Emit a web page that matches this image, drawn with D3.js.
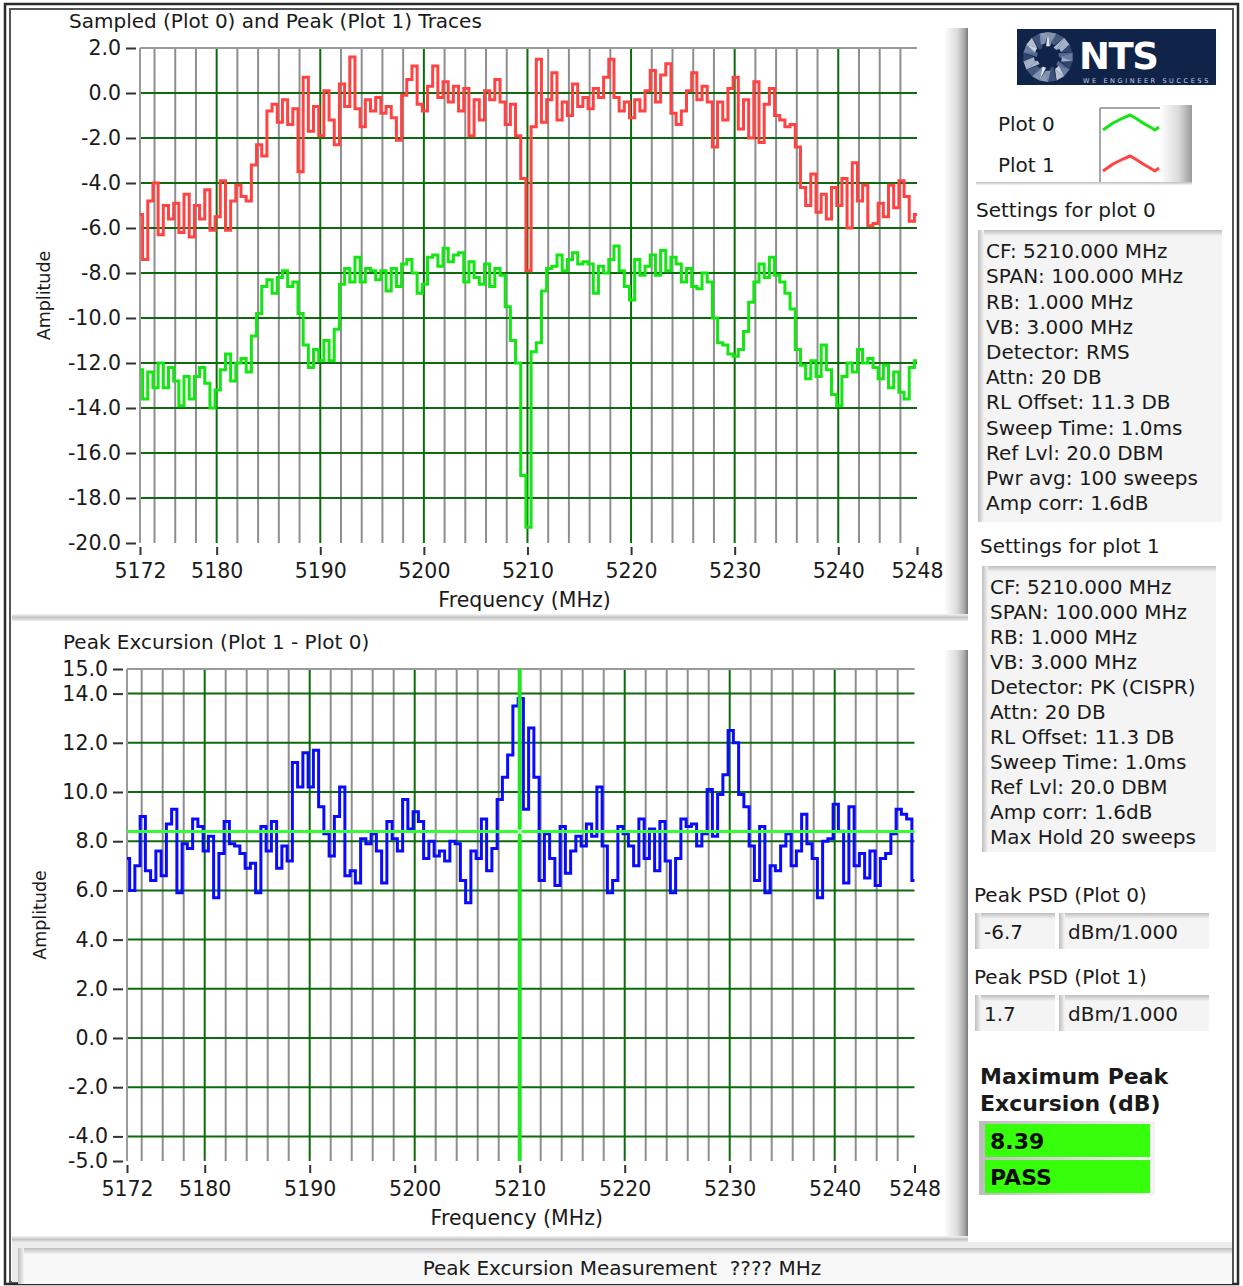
<!DOCTYPE html>
<html>
<meta charset="utf-8">
<style>
    body { margin: 0; background: #fff; overflow: hidden; }
    text { font-family: "DejaVu Sans", sans-serif; fill: #1a1a1a; }
    .minor { stroke: #8e8e8e; stroke-width: 2px; }
    .major { stroke: #0d6a0d; stroke-width: 2px; }
    .border { stroke: #9a9a9a; stroke-width: 2px; }
    .trace { fill: none; stroke-width: 3px; stroke-linejoin: miter; }
</style>

<body>
<script src="https://d3js.org/d3.v7.min.js"></script>
<script>

    // ---- data (0.5 MHz steps from 5172.6 MHz) ----
    var freqStart = 5172.6, freqStep = 0.5;

    // Plot 0 : sampled (RMS) trace, green
    var plot0 = [
        -12.3, -13.6, -12.4, -13.1, -12.0, -13.1, -12.2, -12.8, -13.9, -12.6,
        -13.6, -12.6, -12.2, -12.9, -14.0, -13.2, -12.3, -11.6, -12.8, -12.0,
        -11.8, -12.4, -10.8, -9.8, -8.6, -8.3, -8.9, -8.2, -7.9, -8.6,
        -8.4, -9.8, -11.2, -12.2, -11.4, -11.9, -11.0, -11.9, -10.5, -8.5,
        -7.8, -8.4, -7.3, -8.4, -7.8, -7.9, -8.3, -7.9, -8.8, -7.8,
        -8.6, -7.6, -7.4, -8.0, -8.9, -8.5, -7.3, -7.2, -7.7, -6.9,
        -7.5, -7.2, -7.1, -8.4, -7.5, -8.2, -8.5, -7.6, -8.6, -7.8,
        -8.1, -9.5, -11.0, -12.0, -17.0, -19.3, -11.5, -11.1, -8.8, -7.8,
        -7.7, -7.2, -7.9, -7.4, -7.1, -7.6, -7.5, -7.6, -8.9, -7.7,
        -8.0, -7.4, -6.8, -7.9, -8.6, -9.2, -7.4, -8.1, -7.7, -7.2,
        -8.1, -7.0, -7.9, -7.3, -7.6, -8.4, -7.8, -8.6, -8.7, -8.0,
        -8.4, -10.0, -11.1, -11.2, -11.6, -11.7, -11.4, -10.6, -9.3, -8.4,
        -7.6, -8.2, -7.3, -8.1, -8.4, -8.9, -9.6, -11.4, -12.1, -12.7,
        -11.9, -12.6, -11.2, -12.3, -13.4, -13.9, -12.6, -12.0, -12.4, -11.4,
        -12.0, -11.8, -12.2, -12.7, -12.1, -13.1, -12.4, -13.3, -13.6, -12.2,
        -11.9
    ];

    // Plot 1 : peak (max hold) trace, red
    var plot1 = [
        -5.4, -7.4, -4.8, -4.0, -6.3, -5.0, -5.6, -4.9, -6.2, -4.5,
        -6.4, -5.0, -5.6, -4.3, -6.1, -5.5, -3.9, -6.1, -4.8, -4.1,
        -4.6, -4.8, -3.2, -2.3, -2.8, -0.8, -0.5, -1.3, -0.3, -1.4,
        -0.7, -3.5, 0.7, -1.7, -0.6, -1.9, 0.1, -1.2, -2.3, 0.4,
        -0.6, 1.6, -0.7, -1.5, -0.3, -0.8, -0.2, -0.9, -0.6, -1.1,
        -2.1, -0.1, 0.6, 1.2, -0.5, -0.8, 0.3, 1.2, -0.2, 0.5,
        -0.4, 0.3, -0.8, 0.2, -1.9, -0.3, -1.2, 0.1, -0.3, 0.6,
        -0.4, -1.4, -0.5, -1.9, -3.8, -7.9, -1.5, 1.5, -1.3, -0.3,
        0.9, -1.2, -0.4, -1.0, 0.4, -0.6, -0.2, -0.7, 0.2, -0.2,
        0.7, 1.5, -0.2, -0.8, -0.4, -1.1, -0.3, -0.8, 0.1, 1.0,
        -0.4, 0.8, 1.3, -0.9, -1.4, -0.8, 0.1, 0.9, -0.3, 0.3,
        -0.4, -2.4, -0.4, -1.2, 0.2, 0.7, -1.6, -0.3, -2.0, 0.5,
        -2.2, -0.5, 0.2, -1.0, -1.2, -1.5, -1.4, -2.4, -4.2, -5.0,
        -3.6, -5.3, -4.5, -5.6, -4.2, -5.0, -3.8, -6.0, -3.1, -4.8,
        -4.1, -5.9, -5.8, -4.9, -5.5, -4.1, -5.1, -3.9, -4.6, -5.7,
        -5.4
    ];

    // Peak excursion (Plot 1 - Plot 0), blue
    var excursion = [
        7.3, 6.0, 7.0, 9.0, 6.8, 6.4, 7.6, 6.6, 8.7, 9.3,
        5.9, 7.9, 7.7, 8.9, 8.6, 7.6, 8.2, 5.7, 7.5, 8.8,
        7.9, 7.8, 7.5, 6.9, 7.1, 5.9, 8.6, 7.6, 8.8, 6.9,
        7.8, 7.2, 11.2, 10.2, 11.6, 10.2, 11.7, 9.4, 8.3, 7.4,
        9.0, 10.2, 6.6, 6.8, 6.3, 8.1, 7.9, 8.3, 7.6, 6.3,
        8.8, 8.1, 7.6, 9.7, 8.5, 9.2, 8.8, 7.3, 8.0, 7.4,
        7.6, 7.2, 8.0, 7.9, 6.4, 5.5, 7.6, 7.3, 8.9, 6.8,
        7.7, 9.7, 10.6, 11.5, 13.5, 13.8, 9.3, 12.6, 10.6, 6.4,
        8.3, 7.3, 6.2, 8.6, 6.7, 7.6, 8.2, 7.8, 8.7, 8.2,
        10.2, 7.8, 5.9, 6.4, 8.6, 8.3, 7.8, 7.0, 8.9, 7.3,
        8.5, 6.8, 8.8, 7.2, 5.9, 7.3, 8.9, 8.6, 8.7, 7.8,
        8.3, 10.1, 8.2, 9.9, 10.7, 12.5, 12.0, 9.9, 9.4, 7.8,
        6.4, 8.6, 5.9, 7.0, 6.8, 7.8, 8.3, 7.0, 7.6, 9.1,
        7.9, 7.3, 5.7, 8.0, 8.1, 9.5, 8.4, 6.3, 9.4, 7.0,
        7.5, 6.5, 7.6, 6.2, 7.3, 7.5, 8.3, 9.3, 9.1, 8.9,
        6.4
    ];

    var freqs = plot0.map(function (d, i) { return freqStart + i * freqStep; });

    // axes
    var freqDomain = [5172.6, 5247.6];
    var freqTicks = [5172.6, 5180, 5190, 5200, 5210, 5220, 5230, 5240, 5247.6];
    var freqLabels = ["5172", "5180", "5190", "5200", "5210", "5220", "5230", "5240", "5248"];
    var majorFreqs = [5180, 5190, 5200, 5210, 5220, 5230, 5240];
    var minorFreqs = [5174, 5176, 5178, 5182, 5184, 5186, 5188, 5192, 5194, 5196, 5198,
        5202, 5204, 5206, 5208, 5212, 5214, 5216, 5218, 5222, 5224, 5226, 5228,
        5232, 5234, 5236, 5238, 5242, 5244, 5246];
    var topTicks = [2, 0, -2, -4, -6, -8, -10, -12, -14, -16, -18, -20];
    var bottomTicks = [15, 14, 12, 10, 8, 6, 4, 2, 0, -2, -4, -5];

    // cursors on the excursion graph
    var cursorFreq = 5210;
    var maxExcursion = 8.39;

    // side panel texts
    var settings0 = ["CF: 5210.000 MHz", "SPAN: 100.000 MHz", "RB: 1.000 MHz", "VB: 3.000 MHz",
        "Detector: RMS", "Attn: 20 DB", "RL Offset: 11.3 DB", "Sweep Time: 1.0ms",
        "Ref Lvl: 20.0 DBM", "Pwr avg: 100 sweeps", "Amp corr: 1.6dB"];
    var settings1 = ["CF: 5210.000 MHz", "SPAN: 100.000 MHz", "RB: 1.000 MHz", "VB: 3.000 MHz",
        "Detector: PK (CISPR)", "Attn: 20 DB", "RL Offset: 11.3 DB", "Sweep Time: 1.0ms",
        "Ref Lvl: 20.0 DBM", "Amp corr: 1.6dB", "Max Hold 20 sweeps"];
    var peakPsd0 = "-6.7", peakPsd1 = "1.7", psdUnit = "dBm/1.000";
    var verdict = "PASS";

    // ---- page ----
    var W = 1243, H = 1286;
    var svg = d3.select("body").append("svg").attr("width", W).attr("height", H);
    var defs = svg.append("defs");

    function gradient(id, vertical, stops) {
        var gr = defs.append("linearGradient").attr("id", id)
            .attr("x1", 0).attr("y1", 0)
            .attr("x2", vertical ? 0 : 1).attr("y2", vertical ? 1 : 0);
        stops.forEach(function (s) {
            gr.append("stop").attr("offset", s[0]).attr("stop-color", s[1]);
        });
    }
    gradient("bar", false, [["0%", "#ffffff"], ["55%", "#dcdcdc"], ["85%", "#a8a8a8"], ["100%", "#7a7a7a"]]);
    gradient("shadeV", true, [["0%", "#bdbdbd"], ["100%", "#f4f4f4"]]);
    gradient("shadeH", false, [["0%", "#bdbdbd"], ["100%", "#f4f4f4"]]);
    gradient("sep", true, [["0%", "#f4f4f4"], ["50%", "#c4c4c4"], ["100%", "#efefef"]]);
    gradient("legend", false, [["0%", "#ffffff"], ["60%", "#d8d8d8"], ["100%", "#9a9a9a"]]);

    function bevelBox(x, y, w, h, fill) {
        svg.append("rect").attr("x", x).attr("y", y).attr("width", w).attr("height", h).attr("fill", fill);
        svg.append("rect").attr("x", x).attr("y", y).attr("width", w).attr("height", 6).attr("fill", "url(#shadeV)");
        svg.append("rect").attr("x", x).attr("y", y).attr("width", 6).attr("height", h).attr("fill", "url(#shadeH)");
    }

    // outer frame
    svg.append("rect").attr("x", 5).attr("y", 4).attr("width", 1233).attr("height", 1280)
        .attr("fill", "none").attr("stroke", "#2b2b2b").attr("stroke-width", 2.5);
    svg.append("rect").attr("x", 10).attr("y", 9).attr("width", 1223).attr("height", 1273)
        .attr("fill", "none").attr("stroke", "#555").attr("stroke-width", 2);

    // panel edges
    svg.append("rect").attr("x", 944).attr("y", 28).attr("width", 24).attr("height", 588).attr("fill", "url(#bar)");
    svg.append("rect").attr("x", 944).attr("y", 650).attr("width", 24).attr("height", 588).attr("fill", "url(#bar)");
    svg.append("rect").attr("x", 12).attr("y", 614).attr("width", 956).attr("height", 7).attr("fill", "url(#sep)");
    svg.append("rect").attr("x", 12).attr("y", 1236).attr("width", 956).attr("height", 7).attr("fill", "url(#sep)");

    // status bar
    svg.append("rect").attr("x", 12).attr("y", 1242).attr("width", 1220).attr("height", 40).attr("fill", "#ececec");
    bevelBox(18, 1248, 1214, 36, "#f8f8f8");
    svg.append("text").attr("x", 622).attr("y", 1268).attr("dy", "0.36em")
        .attr("text-anchor", "middle").attr("font-size", 20).style("white-space", "pre")
        .text("Peak Excursion Measurement  ???? MHz");

    // ---- graphs ----
    function drawGraph(cfg) {
        var x = d3.scaleLinear().domain(freqDomain).range([cfg.left, cfg.right]);
        var y = d3.scaleLinear().domain(cfg.yDomain).range([cfg.bottom, cfg.top]);
        var g = svg.append("g");

        // minor verticals (2 MHz)
        g.selectAll(".minor").data(minorFreqs).enter().append("line")
            .attr("class", "minor")
            .attr("x1", function (d) { return x(d); }).attr("x2", function (d) { return x(d); })
            .attr("y1", cfg.top).attr("y2", cfg.bottom);

        // horizontal grid
        var inner = cfg.ticks.filter(function (v) { return v !== cfg.yDomain[0] && v !== cfg.yDomain[1]; });
        g.selectAll(".hgrid").data(inner).enter().append("line")
            .attr("class", "major")
            .attr("x1", cfg.left).attr("x2", cfg.right)
            .attr("y1", function (d) { return y(d); }).attr("y2", function (d) { return y(d); });

        // major verticals (10 MHz)
        g.selectAll(".vgrid").data(majorFreqs).enter().append("line")
            .attr("class", "major")
            .attr("x1", function (d) { return x(d); }).attr("x2", function (d) { return x(d); })
            .attr("y1", cfg.top).attr("y2", cfg.bottom);

        // plot borders (top and left)
        g.append("line").attr("class", "border")
            .attr("x1", cfg.left).attr("x2", cfg.right).attr("y1", cfg.top).attr("y2", cfg.top);
        g.append("line").attr("class", "border")
            .attr("x1", cfg.left).attr("x2", cfg.left).attr("y1", cfg.top).attr("y2", cfg.bottom);

        // y axis
        var ya = g.append("g")
            .attr("transform", "translate(" + (cfg.left - 4) + ",0)")
            .call(d3.axisLeft(y).tickValues(cfg.ticks).tickSize(10).tickPadding(5)
                .tickFormat(function (d) { return d.toFixed(1); }));
        ya.select(".domain").remove();

        // x axis
        var xa = g.append("g")
            .attr("transform", "translate(0," + (cfg.bottom + 4) + ")")
            .call(d3.axisBottom(x).tickValues(freqTicks).tickSize(8).tickPadding(8)
                .tickFormat(function (d, i) { return freqLabels[i]; }));
        xa.select(".domain").remove();

        [ya, xa].forEach(function (a) {
            a.attr("font-family", "DejaVu Sans").attr("font-size", 20.5).style("color", "#1a1a1a");
            a.selectAll(".tick line").attr("stroke", "#333").attr("stroke-width", 2);
        });

        // titles
        g.append("text").attr("x", cfg.titleX).attr("y", cfg.top - 27).attr("dy", "0.36em")
            .attr("font-size", 20).text(cfg.title);
        g.append("text").attr("x", (cfg.left + cfg.right) / 2 - 4).attr("y", cfg.bottom + 57).attr("dy", "0.36em")
            .attr("text-anchor", "middle").attr("font-size", 20.5).text("Frequency (MHz)");
        g.append("text")
            .attr("transform", "translate(" + cfg.ampX + "," + ((cfg.top + cfg.bottom) / 2) + ") rotate(-90)")
            .attr("text-anchor", "middle").attr("font-size", 17.5).text("Amplitude");

        return { x: x, y: y, g: g };
    }

    function traceLine(chart, values) {
        return d3.line()
            .curve(d3.curveStep)
            .x(function (d, i) { return chart.x(freqs[i]); })
            .y(function (d) { return chart.y(d); })(values);
    }

    // upper graph: sampled and peak traces
    var upper = drawGraph({
        left: 140, right: 917, top: 48, bottom: 543,
        yDomain: [-20, 2], ticks: topTicks, titleX: 69, ampX: 50,
        title: "Sampled (Plot 0) and Peak (Plot 1) Traces"
    });
    upper.g.append("path").attr("class", "trace").attr("stroke", "#ff4343").attr("d", traceLine(upper, plot1));
    upper.g.append("path").attr("class", "trace").attr("stroke", "#14e614").attr("d", traceLine(upper, plot0));

    // lower graph: peak excursion
    var lower = drawGraph({
        left: 127, right: 914.5, top: 669, bottom: 1161,
        yDomain: [-5, 15], ticks: bottomTicks, titleX: 63, ampX: 46,
        title: "Peak Excursion (Plot 1 - Plot 0)"
    });
    lower.g.append("path").attr("class", "trace").attr("stroke", "#0a0aff").attr("d", traceLine(lower, excursion));
    lower.g.append("line")
        .attr("x1", lower.x(cursorFreq)).attr("x2", lower.x(cursorFreq))
        .attr("y1", 669).attr("y2", 1161)
        .attr("stroke", "#22e622").attr("stroke-width", 4);
    lower.g.append("line")
        .attr("x1", 127).attr("x2", 914.5)
        .attr("y1", lower.y(maxExcursion)).attr("y2", lower.y(maxExcursion))
        .attr("stroke", "#33ff33").attr("stroke-width", 3);
    var cx = lower.x(cursorFreq), cy = lower.y(maxExcursion);
    [-1, 1].forEach(function (s) {
        lower.g.append("line")
            .attr("x1", cx - 5).attr("x2", cx + 5)
            .attr("y1", cy + 5 * s).attr("y2", cy - 5 * s)
            .attr("stroke", "#d8ffd8").attr("stroke-width", 1.5);
    });

    // ---- side panel ----
    // logo
    svg.append("rect").attr("x", 1017).attr("y", 29).attr("width", 199).attr("height", 56).attr("fill", "#0f2448");
    var globe = svg.append("g").attr("transform", "translate(1048,57)");
    var facetColors = ["#9fb0cc", "#55698f", "#c9d3e4", "#3b4f77", "#7f93b6", "#dfe5ef", "#4a5f88", "#aab8d0"];
    d3.range(18).forEach(function (k) {
        var a0 = k / 18 * 2 * Math.PI, a1 = (k + 1) / 18 * 2 * Math.PI, am = (a0 + a1) / 2;
        var r0 = (k % 2 ? 11 : 14), r1 = 25;
        var pts = [[r0 * Math.cos(a0), r0 * Math.sin(a0)], [r1 * Math.cos(am), r1 * Math.sin(am)],
            [r0 * Math.cos(a1), r0 * Math.sin(a1)]];
        globe.append("path").attr("d", "M" + pts.join("L") + "Z").attr("fill", facetColors[k % facetColors.length]);
        var pts2 = [[r1 * Math.cos(am), r1 * Math.sin(am)], [r1 * Math.cos(a1 + (a1 - a0) / 2), r1 * Math.sin(a1 + (a1 - a0) / 2)],
            [r0 * Math.cos(a1), r0 * Math.sin(a1)]];
        globe.append("path").attr("d", "M" + pts2.join("L") + "Z").attr("fill", facetColors[(k + 3) % facetColors.length]).attr("opacity", 0.8);
    });
    svg.append("text").attr("x", 1079).attr("y", 69).attr("font-size", 37).attr("font-weight", "bold")
        .style("fill", "#fff").attr("letter-spacing", -1.5).text("NTS");
    svg.append("text").attr("x", 1083).attr("y", 83).attr("font-size", 6.5).attr("letter-spacing", 2.6)
        .style("fill", "#c8cee0").text("WE ENGINEER SUCCESS");

    // legend
    svg.append("rect").attr("x", 1160).attr("y", 105).attr("width", 32).attr("height", 80).attr("fill", "url(#legend)");
    svg.append("line").attr("x1", 1100).attr("x2", 1100).attr("y1", 108).attr("y2", 183).attr("stroke", "#8a8a8a").attr("stroke-width", 1.5);
    svg.append("line").attr("x1", 1100).attr("x2", 1160).attr("y1", 108).attr("y2", 108).attr("stroke", "#8a8a8a").attr("stroke-width", 1.5);
    svg.append("rect").attr("x", 976).attr("y", 182).attr("width", 216).attr("height", 3).attr("fill", "url(#shadeV)");
    var legendWave = [[0, 15], [10, 8], [20, 3], [27, 0], [34, 4], [40, 8], [47, 12], [52, 15], [56, 12]];
    [["Plot 0", "#14e614", 124, 115], ["Plot 1", "#ff4343", 165, 156]].forEach(function (p) {
        svg.append("text").attr("x", 998).attr("y", p[2]).attr("dy", "0.36em").attr("font-size", 20).text(p[0]);
        svg.append("path")
            .attr("d", d3.line().x(function (d) { return 1103 + d[0]; }).y(function (d) { return p[3] + d[1]; })(legendWave))
            .attr("fill", "none").attr("stroke", p[1]).attr("stroke-width", 3);
    });

    // settings blocks
    function settingsBlock(label, lines, lx, ly, bx, by, bw, bh, tx, t0, step) {
        svg.append("text").attr("x", lx).attr("y", ly).attr("dy", "0.36em").attr("font-size", 20).text(label);
        bevelBox(bx, by, bw, bh, "#f4f4f4");
        svg.selectAll(null).data(lines).enter().append("text")
            .attr("x", tx).attr("y", function (d, i) { return t0 + i * step; }).attr("dy", "0.36em")
            .attr("font-size", 20).text(function (d) { return d; });
    }
    settingsBlock("Settings for plot 0", settings0, 976, 210, 978, 230, 244, 292, 986, 251, 25.2);
    settingsBlock("Settings for plot 1", settings1, 980, 546, 982, 566, 234, 286, 990, 587, 25);

    // peak PSD readouts
    [["Peak PSD (Plot 0)", peakPsd0, 895, 913], ["Peak PSD (Plot 1)", peakPsd1, 977, 995]].forEach(function (p) {
        svg.append("text").attr("x", 974).attr("y", p[2]).attr("dy", "0.36em").attr("font-size", 20).text(p[0]);
        bevelBox(975, p[3], 80, 36, "#f4f4f4");
        bevelBox(1059, p[3], 150, 36, "#f4f4f4");
        svg.append("text").attr("x", 984).attr("y", p[3] + 19).attr("dy", "0.36em").attr("font-size", 20).text(p[1]);
        svg.append("text").attr("x", 1068).attr("y", p[3] + 19).attr("dy", "0.36em").attr("font-size", 20).text(psdUnit);
    });

    // maximum peak excursion
    svg.append("text").attr("x", 980).attr("y", 1076).attr("dy", "0.36em").attr("font-size", 22)
        .attr("font-weight", "bold").text("Maximum Peak");
    svg.append("text").attr("x", 980).attr("y", 1103).attr("dy", "0.36em").attr("font-size", 22)
        .attr("font-weight", "bold").text("Excursion (dB)");
    [[maxExcursion.toFixed(2), 1124], [verdict, 1160]].forEach(function (p) {
        svg.append("rect").attr("x", 979).attr("y", p[1] - 3).attr("width", 176).attr("height", 38).attr("fill", "url(#shadeH)");
        svg.append("rect").attr("x", 985).attr("y", p[1]).attr("width", 165).attr("height", 33).attr("fill", "#37ff0c");
        svg.append("text").attr("x", 990).attr("y", p[1] + 17).attr("dy", "0.36em").attr("font-size", 22)
            .attr("font-weight", "bold").style("fill", "#0a0a0a").text(p[0]);
    });

</script>
</body>
</html>
